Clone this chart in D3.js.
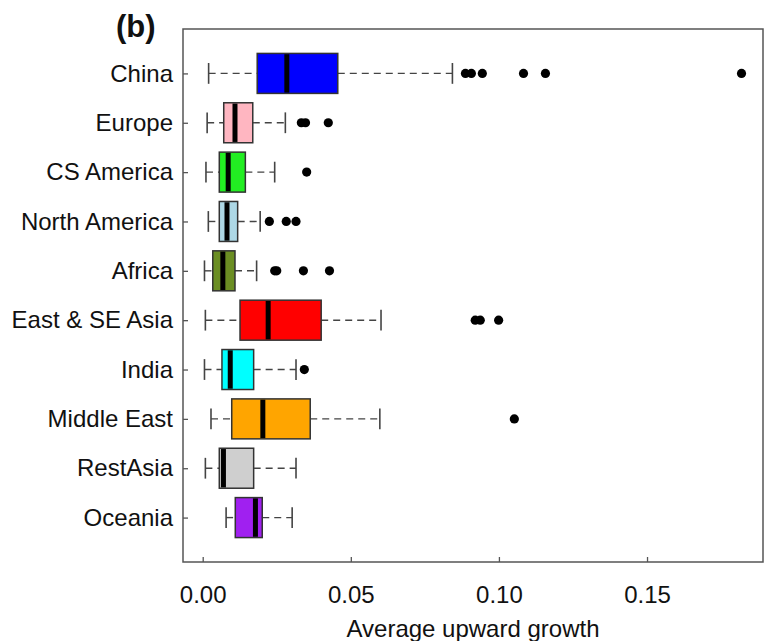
<!DOCTYPE html>
<html>
<head>
<meta charset="utf-8">
<script src="https://cdn.jsdelivr.net/npm/d3@7"></script>
<style>
  html, body { margin: 0; padding: 0; background: #fff; }
  svg { display: block; }
  text { font-family: "Liberation Sans", Arial, sans-serif; fill: #111; }
</style>
</head>
<body>
<svg id="chart" width="769" height="641"></svg>
<script>
// ---- data ----
const categories = ["China", "Europe", "CS America", "North America", "Africa",
  "East & SE Asia", "India", "Middle East", "RestAsia", "Oceania"];
const whiskerLow  = [0.0020, 0.0015, 0.0011, 0.0019, 0.0006, 0.0009, 0.0006, 0.0028, 0.0009, 0.0079];
const q1          = [0.0184, 0.0071, 0.0056, 0.0056, 0.0034, 0.0126, 0.0065, 0.0098, 0.0056, 0.0110];
const median      = [0.0284, 0.0109, 0.0086, 0.0082, 0.0068, 0.0221, 0.0093, 0.0203, 0.0070, 0.0178];
const q3          = [0.0456, 0.0169, 0.0144, 0.0118, 0.0109, 0.0400, 0.0172, 0.0363, 0.0172, 0.0201];
const whiskerHigh = [0.0843, 0.0279, 0.0243, 0.0194, 0.0182, 0.0602, 0.0315, 0.0598, 0.0315, 0.0302];
const outliers = [
  [0.0887, 0.0907, 0.0944, 0.1083, 0.1157, 0.1819],
  [0.0333, 0.0347, 0.0424],
  [0.0351],
  [0.0225, 0.0282, 0.0315],
  [0.0243, 0.0250, 0.0340, 0.0428],
  [0.0920, 0.0937, 0.0999],
  [0.0343],
  [0.1052],
  [],
  []
];
const xTicks = [0, 0.05, 0.10, 0.15];
const xTickLabels = ["0.00", "0.05", "0.10", "0.15"];
const xTitle = "Average upward growth";
const panelLabel = "(b)";
const fills = ["#0000FF", "#FFB6C1", "#22EE22", "#ADD8E6", "#6B8E23",
  "#FF0000", "#00FFFF", "#FFA500", "#CFCFCF", "#A020F0"];

// ---- layout ----
const plot = { left: 183, right: 763, top: 29, bottom: 562 };
const svg = d3.select("#chart");

const allVals = whiskerLow.concat(whiskerHigh, outliers.flat());
const lo = d3.min(allVals), hi = d3.max(allVals);
const pad = (hi - lo) * 0.04;
const x = d3.scaleLinear().domain([lo - pad, hi + pad]).range([plot.left, plot.right]);
const y = d3.scalePoint().domain(categories).range([plot.top, plot.bottom]).padding(0.9);
const boxH = y.step() * 0.81;
const capH = boxH * 0.52;

// frame
svg.append("rect")
  .attr("x", plot.left).attr("y", plot.top)
  .attr("width", plot.right - plot.left).attr("height", plot.bottom - plot.top)
  .attr("fill", "none").attr("stroke", "#555").attr("stroke-width", 1.5);

// axes
const xAxis = d3.axisBottom(x).tickValues(xTicks)
  .tickFormat((d, i) => xTickLabels[i]).tickSize(-5).tickPadding(24);
const gx = svg.append("g").attr("transform", `translate(0,${plot.bottom})`).call(xAxis);
gx.select(".domain").remove();
gx.selectAll(".tick line").attr("stroke", "#555").attr("stroke-width", 1.3);
gx.selectAll(".tick text").attr("font-size", 24).attr("fill", "#111")
  .attr("font-family", "Liberation Sans, Arial, sans-serif");

const yAxis = d3.axisLeft(y).tickSize(-5).tickPadding(10);
const gy = svg.append("g").attr("transform", `translate(${plot.left},0)`).call(yAxis);
gy.select(".domain").remove();
gy.selectAll(".tick line").attr("stroke", "#555").attr("stroke-width", 1.3);
gy.selectAll(".tick text").attr("font-size", 24).attr("fill", "#111")
  .attr("font-family", "Liberation Sans, Arial, sans-serif");

// boxes
const rows = categories.map((c, i) => ({
  c, lo: whiskerLow[i], q1: q1[i], med: median[i], q3: q3[i], hi: whiskerHigh[i],
  out: outliers[i], fill: fills[i]
}));

const g = svg.append("g");
const row = g.selectAll("g.row").data(rows).join("g").attr("class", "row");

// whiskers (dashed)
row.append("line")
  .attr("x1", d => x(d.lo)).attr("x2", d => x(d.q1))
  .attr("y1", d => y(d.c)).attr("y2", d => y(d.c))
  .attr("stroke", "#444").attr("stroke-width", 1.4).attr("stroke-dasharray", "7,5");
row.append("line")
  .attr("x1", d => x(d.q3)).attr("x2", d => x(d.hi))
  .attr("y1", d => y(d.c)).attr("y2", d => y(d.c))
  .attr("stroke", "#444").attr("stroke-width", 1.4).attr("stroke-dasharray", "7,5");
// caps
row.append("line")
  .attr("x1", d => x(d.lo)).attr("x2", d => x(d.lo))
  .attr("y1", d => y(d.c) - capH / 2).attr("y2", d => y(d.c) + capH / 2)
  .attr("stroke", "#444").attr("stroke-width", 1.6);
row.append("line")
  .attr("x1", d => x(d.hi)).attr("x2", d => x(d.hi))
  .attr("y1", d => y(d.c) - capH / 2).attr("y2", d => y(d.c) + capH / 2)
  .attr("stroke", "#444").attr("stroke-width", 1.6);
// box
row.append("rect")
  .attr("x", d => x(d.q1)).attr("width", d => x(d.q3) - x(d.q1))
  .attr("y", d => y(d.c) - boxH / 2).attr("height", boxH)
  .attr("fill", d => d.fill).attr("stroke", "#333").attr("stroke-width", 1.5);
// median
row.append("line")
  .attr("x1", d => x(d.med)).attr("x2", d => x(d.med))
  .attr("y1", d => y(d.c) - boxH / 2 + 0.8).attr("y2", d => y(d.c) + boxH / 2 - 0.8)
  .attr("stroke", "#000").attr("stroke-width", 5);
// outliers
row.selectAll("circle").data(d => d.out.map(v => ({ v, c: d.c }))).join("circle")
  .attr("cx", d => x(d.v)).attr("cy", d => y(d.c)).attr("r", 4.6)
  .attr("fill", "#000");

// titles
svg.append("text")
  .attr("x", (plot.left + plot.right) / 2).attr("y", 637)
  .attr("text-anchor", "middle").attr("font-size", 24)
  .text(xTitle);
svg.append("text")
  .attr("x", 116).attr("y", 37)
  .attr("font-size", 31).attr("font-weight", "bold")
  .text(panelLabel);
</script>
</body>
</html>
